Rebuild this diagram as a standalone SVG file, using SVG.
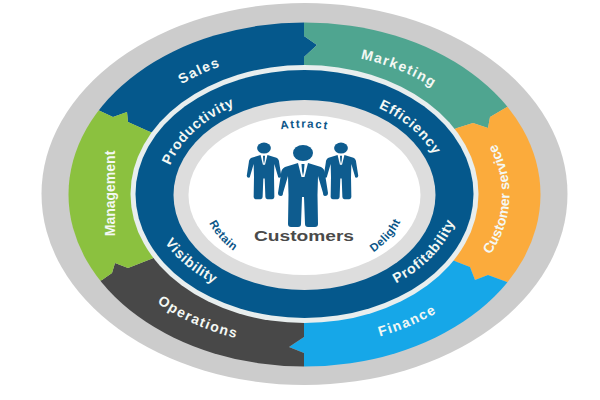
<svg xmlns="http://www.w3.org/2000/svg" xmlns:xlink="http://www.w3.org/1999/xlink" width="600" height="400" viewBox="0 0 600 400">
<style>
text{font-family:"Liberation Sans",Arial,sans-serif;font-weight:700}
.w{fill:#f4f8f4;font-size:14px;letter-spacing:1.4px;text-anchor:middle}
.n{letter-spacing:0}
.s{letter-spacing:.8px}
.b{fill:#0b5688;font-size:11.5px;letter-spacing:.7px;text-anchor:middle}
.p{fill:#0e5c8f}
</style>
<defs>
<clipPath id="ring"><ellipse cx="304.5" cy="194.5" rx="236" ry="172"/></clipPath>
<path id="cwO" d="M304.5,336.5A195,142 0 1 1 304.5,52.5A195,142 0 1 1 304.5,336.5"/>
<path id="ccwO" d="M304.5,42.5A210,152 0 1 0 304.5,346.5A210,152 0 1 0 304.5,42.5"/>
<path id="ccwS" d="M304.5,52.500A205,142 0 1 0 304.5,336.5A205,142 0 1 0 304.5,52.500"/>
<path id="cwI" d="M304.5,296.5A140,102 0 1 1 304.5,92.500A140,102 0 1 1 304.5,296.5"/>
<path id="ccwI" d="M304.5,84.5A155,110 0 1 0 304.5,304.5A155,110 0 1 0 304.5,84.5"/>
<path id="cwC" d="M304.5,263.5A100,68 0 1 1 304.5,127.5A100,68 0 1 1 304.5,263.5"/>
<path id="ccwC" d="M304.5,118.5A102,77 0 1 0 304.5,272.5A102,77 0 1 0 304.5,118.5"/>
<g id="person">
<ellipse class="p" cx="0" cy="-10" rx="10" ry="8"/>
<path class="p" d="M-5,0L-18,4Q-22,6-22,11L-25,30Q-25,33-22,33Q-20,33-20,30L-15,13L-14.500,32L-15,61Q-15,64-12,64L-5,64Q-2,64-2,61L-1,34L1,34L2,61Q2,64 5,64L12,64Q15,64 15,61L14.500,32L15,13L20,30Q20,33 22,33Q25,33 25,30L22,11Q22,6 18,4L5,0Z"/>
<path fill="#fff" d="M-5,0L5,0L1.500,14L-1.500,14Z"/>
<path class="p" d="M-1.500,1L1.500,1L1,8L0,13L-1,8Z"/>
</g>
</defs>
<rect width="600" height="400" fill="#fff"/>
<ellipse id="outer" cx="304.5" cy="194" rx="263" ry="191" fill="#cccccc"/>
<g id="segments" clip-path="url(#ring)">
<polygon id="sales-shape" fill="#05588c" points="304,194 304,57 317,45 304,36 304,0 40,0 40,85 98,110 113,117 127,112 128,122 148,131"/>
<polygon id="marketing-shape" fill="#4fa590" points="304,194 304,57 317,45 304,36 304,0 570,0 560,85 507,107 490,117 488,128 473,123 457,128"/>
<polygon id="service-shape" fill="#fbab3c" points="304,194 457,128 473,123 488,128 490,117 507,107 560,85 600,85 600,310 560,304 507,282 488,275 475,280 470,267 457,262"/>
<polygon id="finance-shape" fill="#16a7e8" points="304,194 457,262 470,267 475,280 488,275 507,282 560,304 560,400 304,400 304,353 289,347 304,337"/>
<polygon id="operations-shape" fill="#484848" points="304,194 304,337 289,347 304,353 304,400 40,400 40,303 102,280 112,273 115,263 128,268 151,259"/>
<polygon id="management-shape" fill="#8bc13f" points="304,194 151,259 128,268 115,263 112,273 102,280 40,303 0,303 0,85 40,85 98,110 113,117 127,112 128,122 148,131"/>
</g>
<ellipse cx="304.5" cy="194" rx="174" ry="129" fill="#e8eeee"/>
<ellipse cx="304.5" cy="194" rx="169" ry="124" fill="#05588c"/>
<ellipse cx="304.5" cy="195" rx="131" ry="95" fill="#dddddd"/>
<ellipse cx="304.5" cy="195" rx="116" ry="80" fill="#fff"/>
<g id="sales"><text class="w"><textPath href="#cwO" xlink:href="#cwO" startOffset="40%">Sales</textPath></text></g>
<g id="marketing"><text class="w"><textPath href="#cwO" xlink:href="#cwO" startOffset="59%">Marketing</textPath></text></g>
<g id="management"><text class="w n" transform="translate(115,193.500) rotate(-90)">Management</text></g>
<g id="customer-service"><text class="w n"><textPath href="#ccwS" xlink:href="#ccwS" startOffset="74.5%">Customer service</textPath></text></g>
<g id="operations"><text class="w"><textPath href="#ccwO" xlink:href="#ccwO" startOffset="40.2%">Operations</textPath></text></g>
<g id="finance"><text class="w"><textPath href="#ccwO" xlink:href="#ccwO" startOffset="59.4%">Finance</textPath></text></g>
<g id="productivity"><text class="w s"><textPath href="#cwI" xlink:href="#cwI" startOffset="34.8%">Productivity</textPath></text></g>
<g id="efficiency"><text class="w s"><textPath href="#cwI" xlink:href="#cwI" startOffset="64.8%">Efficiency</textPath></text></g>
<g id="visibility"><text class="w s"><textPath href="#ccwI" xlink:href="#ccwI" startOffset="35%">Visibility</textPath></text></g>
<g id="profitability"><text class="w s"><textPath href="#ccwI" xlink:href="#ccwI" startOffset="66.500%">Profitability</textPath></text></g>
<g id="attract"><text class="b" style="letter-spacing:1.5px"><textPath href="#cwC" xlink:href="#cwC" startOffset="50%">Attract</textPath></text></g>
<g id="retain"><text class="b" style="letter-spacing:.4px"><textPath href="#ccwC" xlink:href="#ccwC" startOffset="33.400%">Retain</textPath></text></g>
<g id="delight"><text class="b" style="letter-spacing:.4px"><textPath href="#ccwC" xlink:href="#ccwC" startOffset="66.600%">Delight</textPath></text></g>
<g id="customers">
<use href="#person" xlink:href="#person" transform="translate(264,155) scale(.69)"/>
<use href="#person" xlink:href="#person" transform="translate(341,155) scale(.69)"/>
<use href="#person" xlink:href="#person" transform="translate(303,163)"/>
<text x="304" y="241" fill="#4a4a4a" font-size="14" text-anchor="middle" textLength="100" lengthAdjust="spacingAndGlyphs">Customers</text>
</g>
</svg>
